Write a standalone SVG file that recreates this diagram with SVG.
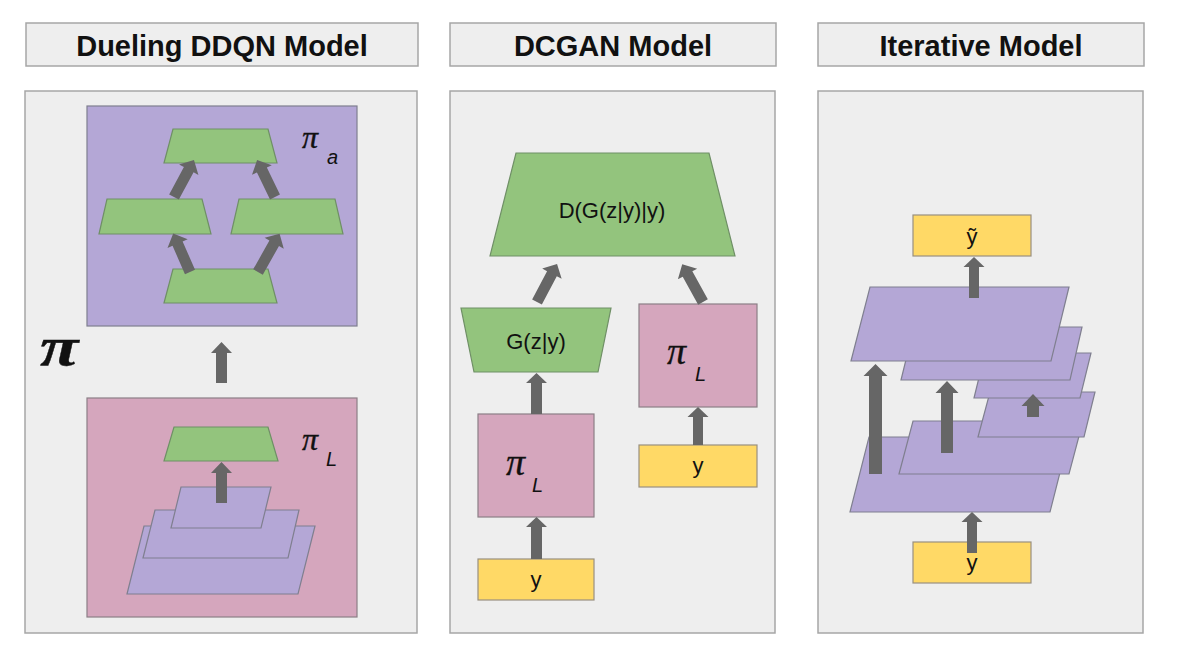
<svg xmlns="http://www.w3.org/2000/svg" width="1179" height="672" viewBox="0 0 1179 672">
<defs>
<style>
.panel{fill:#eeeeee;stroke:#a6a6a6;stroke-width:1.5}
.title{font-family:"Liberation Sans",Arial,sans-serif;font-weight:bold;font-size:29px;fill:#111;text-anchor:middle}
.purple{fill:#b4a7d6;stroke:#7f7f8f;stroke-width:1.2}
.green{fill:#93c47d;stroke:#6f8f66;stroke-width:1.2}
.pink{fill:#d5a6bd;stroke:#8c7f86;stroke-width:1.2}
.yellow{fill:#ffd966;stroke:#999080;stroke-width:1.2}
.lbl{font-family:"Liberation Sans",Arial,sans-serif;font-size:22px;fill:#111;text-anchor:middle}
.pi{font-family:"Liberation Serif","Times New Roman",serif;font-style:italic;fill:#111;stroke:#111;stroke-width:0.35}
.sub{font-family:"Liberation Sans",Arial,sans-serif;font-style:italic;font-size:20px;fill:#111}
.arr{fill:#666666}
</style>
</defs>
<rect width="1179" height="672" fill="#ffffff"/>

<g id="titles">
<g id="title-dueling"><rect class="panel" x="26" y="23" width="392" height="43"/><text class="title" x="222" y="56">Dueling DDQN Model</text></g>
<g id="title-dcgan"><rect class="panel" x="450" y="23" width="326" height="43"/><text class="title" x="613" y="56">DCGAN Model</text></g>
<g id="title-iterative"><rect class="panel" x="818" y="23" width="326" height="43"/><text class="title" x="981" y="56">Iterative Model</text></g>
</g>

<g id="panel-dueling">
<rect class="panel" x="25" y="91" width="392" height="542"/>
<text class="pi" transform="translate(40,365) scale(1.3,1)" font-size="54" font-weight="bold" stroke-width="0.6">π</text>
<g id="pi-a">
<rect class="purple" x="87" y="106" width="270" height="220"/>
<text class="pi" x="302" y="148" font-size="32">π</text><text class="sub" x="327" y="164">a</text>
<polygon id="da-top" class="green" points="173,129 268,129 277,163 164,163"/>
<polygon id="da-midleft" class="green" points="107,199 202,199 211,234 99,234"/>
<polygon id="da-midright" class="green" points="239,199 335,199 343,234 231,234"/>
<polygon id="da-bottom" class="green" points="173,269 268,269 277,303 164,303"/>
</g>
<g id="pi-L-dueling">
<rect class="pink" x="87" y="398" width="270" height="219"/>
<text class="pi" x="302" y="450" font-size="32">π</text><text class="sub" x="326" y="466">L</text>
<polygon id="dl-green" class="green" points="174,427 268,427 278,461 164,461"/>
<polygon id="dl-layer3" class="purple" points="144,526 315,526 298,594 127,594"/>
<polygon id="dl-layer2" class="purple" points="155,510 299,510 288,558 143,558"/>
<polygon id="dl-layer1" class="purple" points="181,487 271,487 261,528 171,528"/>
</g>
</g>

<g id="panel-dcgan">
<rect class="panel" x="450" y="91" width="325" height="542"/>
<g id="node-D"><polygon class="green" points="516,153 709,153 735,256 490,256"/><text class="lbl" x="612" y="218">D(G(z|y)|y)</text></g>
<g id="node-G"><polygon class="green" points="461,308 611,308 598,372 474,372"/><text class="lbl" x="536" y="349">G(z|y)</text></g>
<g id="node-piL-left"><rect class="pink" x="478" y="414" width="116" height="103"/><text class="pi" x="506" y="475" font-size="38">π</text><text class="sub" x="532" y="492">L</text></g>
<g id="node-piL-right"><rect class="pink" x="639" y="304" width="118" height="103"/><text class="pi" x="667" y="364" font-size="38">π</text><text class="sub" x="695" y="381">L</text></g>
<g id="node-y-left"><rect class="yellow" x="478" y="559" width="116" height="41"/><text class="lbl" x="536" y="587" font-size="23">y</text></g>
<g id="node-y-right"><rect class="yellow" x="639" y="445" width="118" height="42"/><text class="lbl" x="698" y="473" font-size="23">y</text></g>
</g>

<g id="panel-iterative">
<rect class="panel" x="818" y="91" width="325" height="542"/>
<g id="node-ytilde"><rect class="yellow" x="913" y="215" width="118" height="41"/><text class="lbl" x="972" y="244" font-size="23">ỹ</text></g>
<g id="node-y-iter"><rect class="yellow" x="913" y="542" width="118" height="41"/><text class="lbl" x="972" y="570" font-size="23">y</text></g>
<g id="layers">
<polygon id="layer-a" class="purple" points="869,437 1069,437 1050,512 850,512"/>
<polygon id="layer-b" class="purple" points="913,421 1083,421 1069,474 899,474"/>
<polygon id="layer-c" class="purple" points="990,392 1095,392 1084,437 978,437"/>
<polygon id="layer-d" class="purple" points="985,353 1091,353 1080,398 974,398"/>
<polygon id="layer-e" class="purple" points="914,327 1082,327 1070,380 901,380"/>
<polygon id="layer-f" class="purple" points="870,287 1069,287 1051,361 851,361"/>
</g>
</g>

<g id="connectors">
<polygon class="arr" points="216,383 216,353 211,353 221.5,342 232,353 227,353 227,383"/>
<polygon class="arr" points="216,503 216,473 211,473 221.5,462 232,473 227,473 227,503"/>
<polygon class="arr" transform="translate(174,197) rotate(28.4)" points="-5.5,0 -5.5,-31 -11,-31 0,-42 11,-31 5.5,-31 5.5,0"/>
<polygon class="arr" transform="translate(275,197) rotate(-25.9)" points="-5.5,0 -5.5,-30 -11,-30 0,-41 11,-30 5.5,-30 5.5,0"/>
<polygon class="arr" transform="translate(190,272) rotate(-23.6)" points="-5.5,0 -5.5,-31 -11,-31 0,-42 11,-31 5.5,-31 5.5,0"/>
<polygon class="arr" transform="translate(258,272) rotate(29.4)" points="-5.5,0 -5.5,-33 -11,-33 0,-44 11,-33 5.5,-33 5.5,0"/>
<polygon class="arr" transform="translate(537,302) rotate(27.8)" points="-5.5,0 -5.5,-32 -11,-32 0,-43 11,-32 5.5,-32 5.5,0"/>
<polygon class="arr" transform="translate(703,302) rotate(-28.9)" points="-5.5,0 -5.5,-32 -11,-32 0,-43 11,-32 5.5,-32 5.5,0"/>
<polygon class="arr" points="531,414 531,383 526,383 536.5,373 547,383 542,383 542,414"/>
<polygon class="arr" points="531,559 531,527 526,527 536.5,517 547,527 542,527 542,559"/>
<polygon class="arr" points="693,445 693,417 687.5,417 698,407 708.5,417 703,417 703,445"/>
<polygon class="arr" points="967,553 967,522 961.5,522 972,512 982.5,522 977,522 977,553"/>
<polygon class="arr" points="969,298 969,267 963.5,267 974,257 984.5,267 979,267 979,298"/>
<polygon class="arr" points="869,474 869,376 863.5,376 875.5,364 887.5,376 882,376 882,474"/>
<polygon class="arr" points="941,453 941,393 935.5,393 947,381 958.5,393 953,393 953,453"/>
<polygon class="arr" points="1027,417 1027,406 1021.5,406 1033,394 1044.5,406 1039,406 1039,417"/>
</g>
</svg>
